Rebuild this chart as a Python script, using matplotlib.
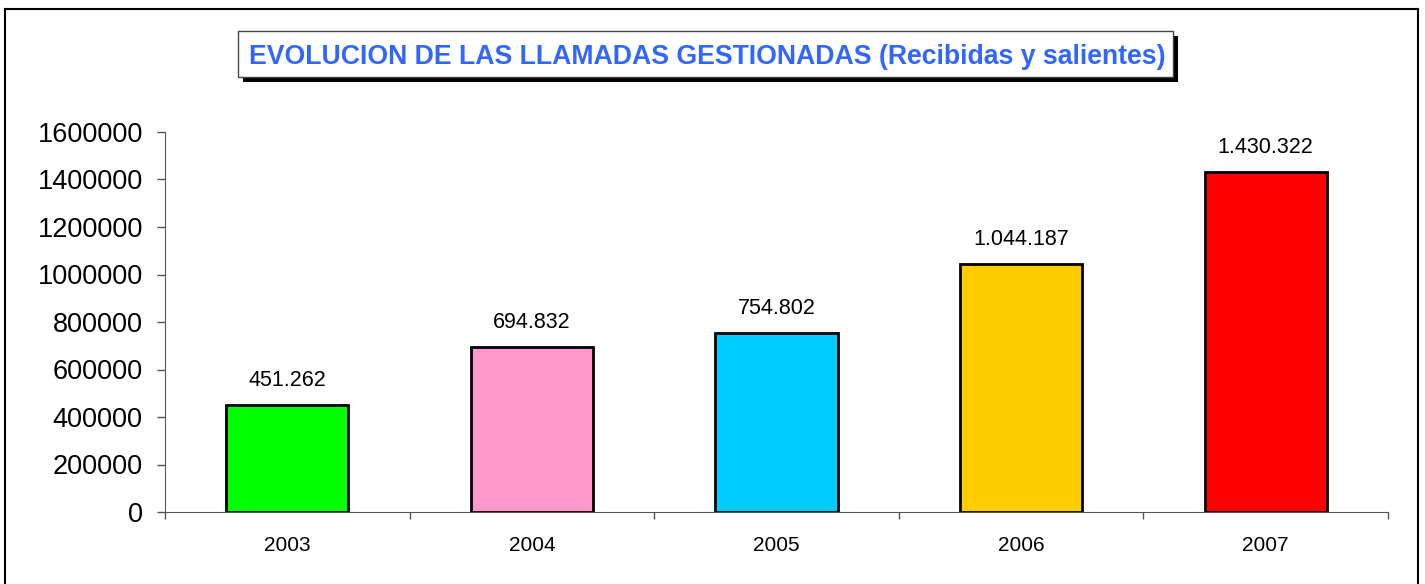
import matplotlib
matplotlib.use("Agg")
import matplotlib.pyplot as plt
from matplotlib.lines import Line2D
from matplotlib.patches import Rectangle

years = ["2003", "2004", "2005", "2006", "2007"]
calls = [451262, 694832, 754802, 1044187, 1430322]
value_labels = ["451.262", "694.832", "754.802", "1.044.187", "1.430.322"]
colors = ["#00FF00", "#FF99CC", "#00CCFF", "#FFCC00", "#FF0000"]
yticks = [0, 200000, 400000, 600000, 800000, 1000000, 1200000, 1400000, 1600000]
title = "EVOLUCION DE LAS LLAMADAS GESTIONADAS (Recibidas y salientes)"

plt.rcParams['font.family'] = ['Liberation Sans', 'DejaVu Sans']

W, H = 1425, 584
fig = plt.figure(figsize=(W / 100, H / 100), dpi=100)

def fx(px):
    return px / W

def fy(py):
    return 1 - py / H

# outer frame (left, top, right)
fig.add_artist(Line2D([fx(5), fx(5)], [fy(9), fy(590)], color="black", lw=1.5))
fig.add_artist(Line2D([fx(5), fx(1418)], [fy(9), fy(9)], color="black", lw=1.5))
fig.add_artist(Line2D([fx(1418), fx(1418)], [fy(9), fy(590)], color="black", lw=1.5))

# axes
ax = fig.add_axes([fx(165), fy(512), fx(1388) - fx(165), fy(132) - fy(512)])
x = list(range(len(years)))
ax.bar(x, calls, width=0.5, color=colors, edgecolor="black", linewidth=2, zorder=3)
ax.set_xlim(-0.5, len(years) - 0.5)
ax.set_ylim(0, 1600000)
ax.set_yticks(yticks)
ax.set_yticklabels([str(v) for v in yticks], fontsize=19.5)
ax.set_xticks(x)
ax.set_xticklabels(years, fontsize=15)
ax.set_xticks([i - 0.5 for i in range(len(years) + 1)], minor=True)
ax.tick_params(axis="x", which="major", length=0, pad=17)
ax.tick_params(axis="x", which="minor", length=5, color="#555555", width=1)
ax.tick_params(axis="y", length=6, color="#555555", width=1, pad=10)
for s in ["top", "right"]:
    ax.spines[s].set_visible(False)
ax.spines["left"].set_color("#555555")
ax.spines["bottom"].set_color("#555555")
ax.spines["bottom"].set_zorder(4)

for xi, v, lab in zip(x, calls, value_labels):
    ax.annotate(lab, (xi, v), xytext=(0, 10), textcoords="offset points",
                ha="center", va="bottom", fontsize=15.5)

# title box with shadow
bx0, bx1, by0, by1 = 238, 1173, 31, 77
fig.add_artist(Rectangle((fx(bx0 + 5), fy(by1 + 5)), fx(bx1) - fx(bx0), fy(by0) - fy(by1),
                         facecolor="black", edgecolor="none", transform=fig.transFigure))
fig.add_artist(Rectangle((fx(bx0), fy(by1)), fx(bx1) - fx(bx0), fy(by0) - fy(by1),
                         facecolor="white", edgecolor="#444444", lw=1, transform=fig.transFigure))
fig.text(fx((bx0 + bx1) / 2 + 2), fy(57), title, ha="center", va="center",
         fontsize=19.2, fontweight="bold", color="#3366FF")

fig.savefig("out.png", dpi=100)
